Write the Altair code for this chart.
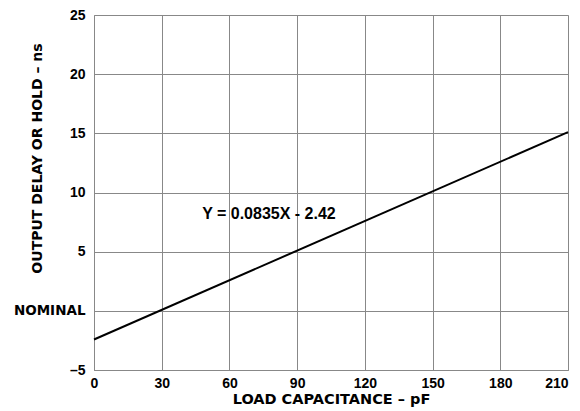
import altair as alt
import pandas as pd

cap_pf = [0, 210]
delay_ns = [-2.42, 15.1]
x_ticks = [0, 30, 60, 90, 120, 150, 180, 210]
y_ticks = [-5, 0, 5, 10, 15, 20, 25]
eq_label = ["Y = 0.0835X - 2.42"]
eq_x = [77.5]
eq_y = [8.2]

df = pd.DataFrame({"x": cap_pf, "y": delay_ns})
ann = pd.DataFrame({"x": eq_x, "y": eq_y, "t": eq_label})

NUM_FONT = "Liberation Sans"
TXT_FONT = "DejaVu Sans"

xscale = alt.Scale(domain=[0, 210], nice=False, zero=False)
yscale = alt.Scale(domain=[-5, 25], nice=False, zero=False)

xaxis = alt.Axis(
    values=x_ticks, title="LOAD CAPACITANCE – pF", grid=True, ticks=False,
    labelPadding=6, titlePadding=2, labelFontSize=14, titleFontSize=14.5,
    labelFont=NUM_FONT, titleFont=TXT_FONT, labelFontWeight="bold", titleFontWeight="bold",
    labelColor="black", titleColor="black", domainColor="#888888", gridColor="#888888",
    gridOpacity=1, labelFlush=False,
    labelAlign={"condition": {"test": "datum.value == 210", "value": "right"}, "value": "center"},
)
yaxis = alt.Axis(
    values=y_ticks, title="OUTPUT DELAY OR HOLD – ns", grid=True, ticks=False,
    labelPadding=9,
    labelFontSize={"condition": {"test": "datum.value == 0", "value": 13.5}, "value": 14},
    titleFontSize=14,
    labelFont={"condition": {"test": "datum.value == 0", "value": TXT_FONT}, "value": NUM_FONT},
    titleFont=TXT_FONT, labelFontWeight="bold", titleFontWeight="bold",
    labelColor="black", titleColor="black", domainColor="#888888", gridColor="#888888",
    gridOpacity=1, labelFlush=False,
    labelExpr="datum.value == 0 ? 'NOMINAL' : replace(format(datum.value, 'd'), /[-\u2212]/, '\u2013')",
    titleX=-57, titleY=143, titleBaseline="middle", titleAnchor="middle",
)

line = alt.Chart(df).mark_line(color="black", strokeWidth=2).encode(
    x=alt.X("x:Q", scale=xscale, axis=xaxis),
    y=alt.Y("y:Q", scale=yscale, axis=yaxis),
)

text = alt.Chart(ann).mark_text(
    font=NUM_FONT, fontWeight="bold", fontSize=16, color="black", align="center", baseline="middle"
).encode(
    x=alt.X("x:Q", scale=xscale),
    y=alt.Y("y:Q", scale=yscale),
    text="t:N",
)

chart = (line + text).properties(
    width=474, height=355,
    autosize=alt.AutoSizeParams(type="none"),
    padding={"left": 86, "top": 7, "right": 4, "bottom": 38},
).configure_view(stroke="#888888", strokeWidth=1).configure(background="white")

chart.save("out.html", embed_options={"renderer": "svg", "actions": False})
